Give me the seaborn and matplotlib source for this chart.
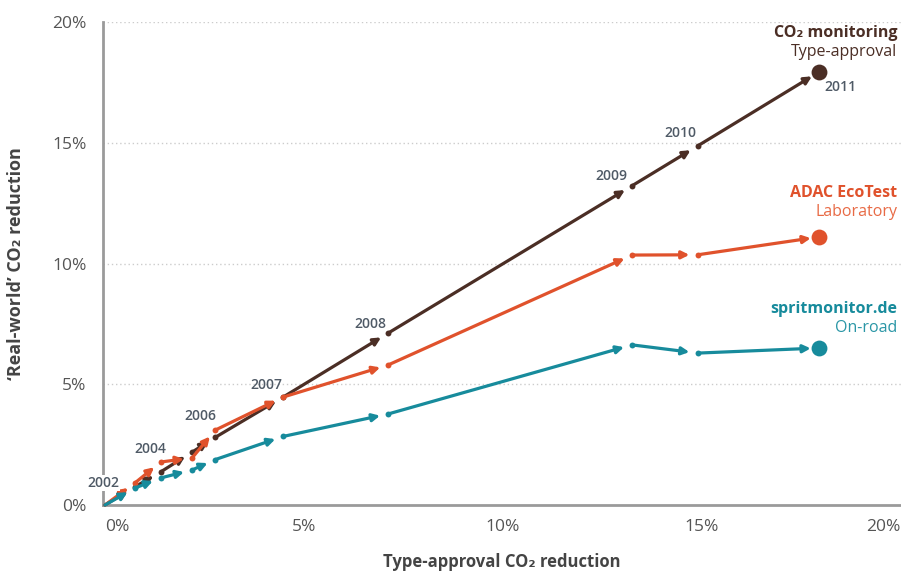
import matplotlib.pyplot as plt
import matplotlib.transforms as mtransforms
import seaborn as sns

# type-approval CO2 reduction (%) by year, shared x for all series
years = [2002, 2003, 2004, 2005, 2006, 2007, 2008, 2009, 2010, 2011]
type_approval = [0.0, 0.75, 1.40, 2.19, 2.77, 4.48, 7.12, 13.25, 14.90, 17.95]

# 'real-world' CO2 reduction (%) per source
co2_monitoring = [0.0, 0.75, 1.37, 2.19, 2.80, 4.47, 7.12, 13.22, 14.87, 17.93]
adac_ecotest = [0.0, 0.91, 1.78, 1.95, 3.10, 4.47, 5.80, 10.35, 10.36, 11.10]
spritmonitor = [0.0, 0.70, 1.12, 1.45, 1.88, 2.84, 3.77, 6.63, 6.29, 6.50]

year_labels = ["2002", "2004", "2006", "2007", "2008", "2009", "2010", "2011"]
year_label_pos = [(-0.05, 0.91), (1.13, 2.32), (2.39, 3.69), (4.05, 4.97),
                  (6.66, 7.49), (12.72, 13.62), (14.46, 15.40), (18.48, 17.31)]

series = [
    ("CO\u2082 monitoring", "Type-approval", co2_monitoring, "#4b2e25", "#4b2e25", 19.54),
    ("ADAC EcoTest", "Laboratory", adac_ecotest, "#e0522c", "#e86a45", 12.92),
    ("spritmonitor.de", "On-road", spritmonitor, "#178b9c", "#2a96a6", 8.12),
]

sns.set_style("white")
plt.rcParams['font.family'] = ['Open Sans', 'DejaVu Sans']

fig = plt.figure(figsize=(9.01, 5.74), dpi=100)
ax = fig.add_axes([103 / 901, 69 / 574, 798 / 901, 483 / 574])

for name, sub, vals, color, subcolor, ylab in series:
    # year-to-year arrows
    for i in range(len(vals) - 1):
        ax.annotate("", xy=(type_approval[i + 1], vals[i + 1]),
                    xytext=(type_approval[i], vals[i]),
                    arrowprops=dict(arrowstyle="-|>", color=color, lw=2.3,
                                    shrinkA=0, shrinkB=6, mutation_scale=11),
                    annotation_clip=False, zorder=3)
    sns.scatterplot(x=type_approval[1:-1], y=vals[1:-1], color=color, s=18,
                    linewidth=0, ax=ax, zorder=3, clip_on=False)
    sns.scatterplot(x=type_approval[-1:], y=vals[-1:], color=color, s=130,
                    linewidth=0, ax=ax, zorder=4, clip_on=False)
    ax.text(19.91, ylab, name, color=color, fontsize=11.5, fontweight="bold",
            ha="right", va="center")
    ax.text(19.91, ylab - 0.79, sub, color=subcolor, fontsize=11.5,
            ha="right", va="center")

for lab, (lx, ly) in zip(year_labels, year_label_pos):
    bbox = dict(facecolor="white", edgecolor="none", pad=1) if lab == "2002" else None
    ax.text(lx, ly, lab, color="#4f5a66", fontsize=10, fontweight="semibold",
            ha="center", va="center", bbox=bbox, zorder=5)

ax.set_xlim(-0.05, 20.01)
ax.set_ylim(0, 20)
ticks = [0, 5, 10, 15, 20]
ax.set_xticks(ticks)
ax.set_yticks(ticks)
ax.set_xticklabels([f"{t}%" for t in ticks])
ax.set_yticklabels([f"{t}%" for t in ticks])
ax.tick_params(axis="both", length=0, labelsize=12.5, labelcolor="#555555")
ax.tick_params(axis="x", pad=10)
ax.tick_params(axis="y", pad=12)
xlabels = ax.get_xticklabels()
xlabels[0].set_transform(xlabels[0].get_transform() +
                         mtransforms.ScaledTranslation(12 / 100, 0, fig.dpi_scale_trans))
xlabels[-1].set_horizontalalignment("right")

for t in ticks[1:]:
    ax.axhline(t, color="#cccccc", lw=1, ls=(0, (1, 2)), zorder=0)

sns.despine(ax=ax, top=True, right=True)
for side in ["left", "bottom"]:
    ax.spines[side].set_color("#9a9a9a")
    ax.spines[side].set_linewidth(2)

ax.set_xlabel("Type-approval CO\u2082 reduction", fontsize=12, fontweight="bold",
              color="#444444")
ax.set_ylabel("\u2018Real-world\u2019 CO\u2082 reduction", fontsize=13,
              fontweight="bold", color="#444444")
ax.xaxis.set_label_coords(0.5, -0.1)
ax.yaxis.set_label_coords(-0.098, 0.5)

fig.savefig("out.png", dpi=100)
